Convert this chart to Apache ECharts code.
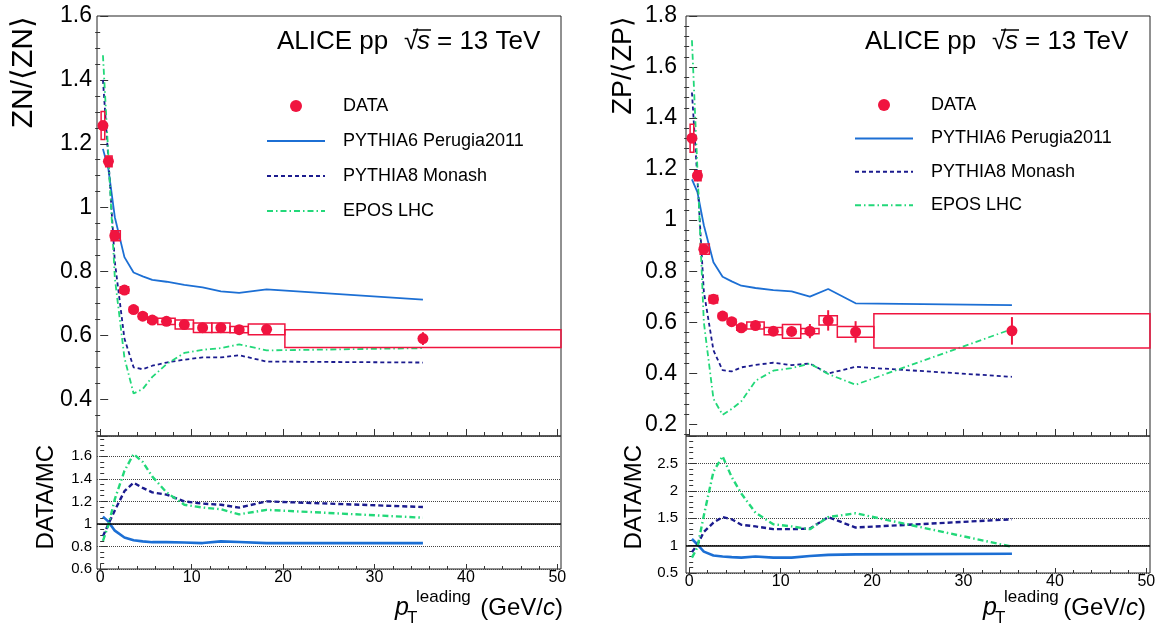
<!DOCTYPE html>
<html><head><meta charset="utf-8">
<script src="https://cdn.jsdelivr.net/npm/echarts@6/dist/echarts.min.js"></script>
<style>html,body{margin:0;padding:0;background:#fff}#c{width:1161px;height:627px}</style>
</head><body><div id="c"></div>
<script>
// ---------- data ----------
const pT    = [0.3, 0.9, 1.6, 2.65, 3.65, 4.65, 5.7, 7.25, 9.2, 11.2, 13.2, 15.2, 18.2, 35.3];
const binLo = [0.1, 0.6, 1.2, 2.2, 3.2, 4.2, 5.2, 6.3, 8.2, 10.2, 12.2, 14.2, 16.2, 20.2];
const binHi = [0.5, 1.3, 2.2, 3.1, 4.1, 5.1, 6.2, 8.2, 10.2, 12.2, 14.2, 16.2, 20.2, 50.4];

const znData = [1.257, 1.145, 0.912, 0.742, 0.681, 0.660, 0.648, 0.644, 0.634, 0.624, 0.624, 0.618, 0.619, 0.590];
const znStat = [0.005, 0.005, 0.005, 0.005, 0.005, 0.005, 0.005, 0.005, 0.006, 0.007, 0.008, 0.009, 0.012, 0.020];
const znSys  = [0.044, 0.017, 0.016, 0.010, 0.008, 0.008, 0.008, 0.010, 0.014, 0.015, 0.015, 0.010, 0.017, 0.028];
const znPythia6 = [1.184, 1.12, 0.97, 0.845, 0.797, 0.785, 0.774, 0.768, 0.758, 0.750, 0.738, 0.733, 0.744, 0.712];
const znPythia8 = [1.40, 1.15, 0.83, 0.59, 0.50, 0.494, 0.505, 0.515, 0.524, 0.531, 0.531, 0.538, 0.518, 0.515];
const znEpos    = [1.477, 1.16, 0.78, 0.53, 0.418, 0.432, 0.47, 0.51, 0.545, 0.555, 0.56, 0.572, 0.553, 0.56];
const znRatioPythia6 = [1.065, 1.02, 0.94, 0.88, 0.855, 0.845, 0.838, 0.838, 0.835, 0.83, 0.845, 0.84, 0.83, 0.83];
const znRatioPythia8 = [0.89, 1.0, 1.12, 1.29, 1.365, 1.32, 1.28, 1.26, 1.2, 1.18, 1.17, 1.145, 1.2, 1.15];
const znRatioEpos    = [0.85, 0.99, 1.22, 1.47, 1.62, 1.55, 1.42, 1.28, 1.17, 1.145, 1.13, 1.085, 1.125, 1.055];

const zpData = [1.321, 1.174, 0.886, 0.690, 0.624, 0.602, 0.578, 0.587, 0.565, 0.564, 0.565, 0.607, 0.562, 0.566];
const zpStat = [0.005, 0.005, 0.005, 0.006, 0.007, 0.008, 0.010, 0.012, 0.015, 0.018, 0.028, 0.040, 0.042, 0.054];
const zpSys  = [0.055, 0.020, 0.020, 0.015, 0.010, 0.010, 0.010, 0.014, 0.014, 0.027, 0.010, 0.018, 0.021, 0.067];
const zpPythia6 = [1.16, 1.11, 0.98, 0.835, 0.778, 0.76, 0.743, 0.734, 0.726, 0.721, 0.70, 0.73, 0.674, 0.667];
const zpPythia8 = [1.50, 1.16, 0.72, 0.49, 0.412, 0.407, 0.423, 0.433, 0.441, 0.432, 0.438, 0.399, 0.425, 0.386];
const zpEpos    = [1.705, 1.2, 0.6, 0.30, 0.237, 0.26, 0.29, 0.37, 0.41, 0.42, 0.438, 0.397, 0.355, 0.573];
const zpRatioPythia6 = [1.12, 1.02, 0.89, 0.82, 0.80, 0.79, 0.78, 0.80, 0.78, 0.78, 0.81, 0.83, 0.84, 0.85];
const zpRatioPythia8 = [0.88, 1.02, 1.25, 1.42, 1.52, 1.48, 1.38, 1.35, 1.30, 1.30, 1.31, 1.52, 1.33, 1.48];
const zpRatioEpos    = [0.78, 0.97, 1.55, 2.35, 2.63, 2.25, 1.95, 1.6, 1.39, 1.35, 1.30, 1.52, 1.59, 0.98];

const xTickLabels = [0, 10, 20, 30, 40, 50];
const xMinorTicks = [2,4,6,8,12,14,16,18,22,24,26,28,32,34,36,38,42,44,46,48];
const znTickLabels = [0.4, 0.6, 0.8, 1, 1.2, 1.4, 1.6];
const znMinorTicks = [0.3,0.35,0.45,0.5,0.55,0.65,0.7,0.75,0.85,0.9,0.95,1.05,1.1,1.15,1.25,1.3,1.35,1.45,1.5,1.55];
const zpTickLabels = [0.2, 0.4, 0.6, 0.8, 1, 1.2, 1.4, 1.6, 1.8];
const zpMinorTicks = [0.16,0.24,0.28,0.32,0.36,0.44,0.48,0.52,0.56,0.64,0.68,0.72,0.76,0.84,0.88,0.92,0.96,1.04,1.08,1.12,1.16,1.24,1.28,1.32,1.36,1.44,1.48,1.52,1.56,1.64,1.68,1.72,1.76];

const names = ['DATA', 'PYTHIA6 Perugia2011', 'PYTHIA8 Monash', 'EPOS LHC'];

// ---------- style ----------
const FONT = 'Liberation Sans, Arial, Helvetica, sans-serif';
const RED = '#f0143f', C6 = '#1c6fd4', C8 = '#1b1b8e', CE = '#22d879';
const AX = '#333';

const XMIN = -0.35, XMAX = 50.4;
const G = [
  {left: 97,  top: 16,  width: 464, height: 420},
  {left: 97,  top: 436, width: 464, height: 133},
  {left: 686, top: 16,  width: 464, height: 420},
  {left: 686, top: 436, width: 464, height: 137}
];
const grids = G.map(g => Object.assign({show: true, borderColor: '#222', borderWidth: 1, backgroundColor: 'transparent'}, g));

function xMain(gi, withLabels, tickLen) {
  return {type: 'value', gridIndex: gi, min: XMIN, max: XMAX, position: 'bottom',
    axisLine: {show: false}, splitLine: {show: false},
    axisTick: {show: true, inside: true, length: tickLen, customValues: xTickLabels, lineStyle: {color: AX}},
    axisLabel: {show: withLabels, customValues: xTickLabels, margin: 1, fontFamily: FONT, fontSize: 16, color: '#000'}};
}
function xMinor(gi, tickLen) {
  return {type: 'value', gridIndex: gi, min: XMIN, max: XMAX, position: 'bottom',
    axisLine: {show: false}, splitLine: {show: false}, axisLabel: {show: false},
    axisTick: {show: true, inside: true, length: tickLen, customValues: xMinorTicks, lineStyle: {color: AX}}};
}
const xAxes = [xMain(0, false, 7), xMain(1, true, 5), xMain(2, false, 7), xMain(3, true, 5),
               xMinor(0, 4), xMinor(1, 3), xMinor(2, 4), xMinor(3, 3)];

const yAxes = [
  {type: 'value', gridIndex: 0, min: 0.285, max: 1.6,
   axisLine: {show: false}, splitLine: {show: false},
   axisTick: {inside: true, length: 8, customValues: znTickLabels, lineStyle: {color: AX}},
   axisLabel: {customValues: znTickLabels, margin: 5, fontFamily: FONT, fontSize: 23, color: '#000'}},
  {type: 'value', gridIndex: 1, min: 0.6, max: 1.78, interval: 0.2,
   axisLine: {show: false},
   splitLine: {show: true, lineStyle: {type: 'dotted', color: '#444', width: 1}},
   axisTick: {inside: true, length: 7, lineStyle: {color: AX}},
   minorTick: {show: true, splitNumber: 4, length: 4, lineStyle: {color: AX}},
   axisLabel: {showMaxLabel: false, margin: 5, fontFamily: FONT, fontSize: 15, color: '#000'}},
  {type: 'value', gridIndex: 2, min: 0.154, max: 1.8,
   axisLine: {show: false}, splitLine: {show: false},
   axisTick: {inside: true, length: 8, customValues: zpTickLabels, lineStyle: {color: AX}},
   axisLabel: {customValues: zpTickLabels, margin: 9, fontFamily: FONT, fontSize: 23, color: '#000'}},
  {type: 'value', gridIndex: 3, min: 0.5, max: 3, interval: 0.5,
   axisLine: {show: false},
   splitLine: {show: true, lineStyle: {type: 'dotted', color: '#444', width: 1}},
   axisTick: {inside: true, length: 7, lineStyle: {color: AX}},
   minorTick: {show: true, splitNumber: 5, length: 4, lineStyle: {color: AX}},
   axisLabel: {showMaxLabel: false, margin: 8, fontFamily: FONT, fontSize: 15, color: '#000'}},
  {type: 'value', gridIndex: 0, min: 0.285, max: 1.6,
   axisLine: {show: false}, splitLine: {show: false}, axisLabel: {show: false},
   axisTick: {inside: true, length: 5, customValues: znMinorTicks, lineStyle: {color: AX}}},
  {type: 'value', gridIndex: 2, min: 0.154, max: 1.8,
   axisLine: {show: false}, splitLine: {show: false}, axisLabel: {show: false},
   axisTick: {inside: true, length: 5, customValues: zpMinorTicks, lineStyle: {color: AX}}}
];

function lineSeries(name, vals, axi, color, type, width) {
  return {type: 'line', name: name, xAxisIndex: axi, yAxisIndex: axi,
    data: pT.map((x, i) => [x, vals[i]]), symbol: 'none', showSymbol: false,
    lineStyle: {color: color, type: type, width: width}, itemStyle: {color: color}, z: 3, silent: true};
}
function boxSeries(vals, sys, axi) {
  return {type: 'custom', name: 'sys', xAxisIndex: axi, yAxisIndex: axi, z: 4, silent: true,
    data: pT.map((x, i) => [binLo[i], binHi[i], vals[i] - sys[i], vals[i] + sys[i]]),
    encode: {x: [0, 1], y: [2, 3]},
    renderItem: function (params, api) {
      const a = api.coord([api.value(0), api.value(3)]);
      const b = api.coord([api.value(1), api.value(2)]);
      return {type: 'rect', shape: {x: a[0], y: a[1], width: b[0] - a[0], height: b[1] - a[1]},
        style: {fill: 'none', stroke: RED, lineWidth: 1.5}};
    }};
}
function errSeries(vals, stat, axi) {
  return {type: 'custom', name: 'stat', xAxisIndex: axi, yAxisIndex: axi, z: 5, silent: true,
    data: pT.map((x, i) => [x, vals[i] - stat[i], vals[i] + stat[i]]),
    encode: {x: 0, y: [1, 2]},
    renderItem: function (params, api) {
      const a = api.coord([api.value(0), api.value(1)]);
      const b = api.coord([api.value(0), api.value(2)]);
      return {type: 'line', shape: {x1: a[0], y1: a[1], x2: b[0], y2: b[1]},
        style: {stroke: RED, lineWidth: 2}};
    }};
}
function dataSeries(vals, axi) {
  return {type: 'scatter', name: 'DATA', xAxisIndex: axi, yAxisIndex: axi, z: 6, silent: true,
    data: pT.map((x, i) => [x, vals[i]]), symbol: 'circle', symbolSize: 11, itemStyle: {color: RED, opacity: 1}};
}
function unity(axi) {
  return {type: 'line', name: 'unity', xAxisIndex: axi, yAxisIndex: axi, data: [], silent: true,
    markLine: {silent: true, symbol: 'none', label: {show: false}, animation: false,
      lineStyle: {color: '#000', type: 'solid', width: 1.5}, data: [{yAxis: 1}]}};
}

const series = [
  lineSeries(names[1], znPythia6, 0, C6, 'solid', 1.8),
  lineSeries(names[2], znPythia8, 0, C8, [4, 3], 1.8),
  lineSeries(names[3], znEpos, 0, CE, [6, 3, 1.5, 3], 1.8),
  boxSeries(znData, znSys, 0), errSeries(znData, znStat, 0), dataSeries(znData, 0),
  unity(1),
  lineSeries('r6', znRatioPythia6, 1, C6, 'solid', 2.6),
  lineSeries('r8', znRatioPythia8, 1, C8, [5, 3], 2.4),
  lineSeries('rE', znRatioEpos, 1, CE, [6, 3, 1.5, 3], 2.4),
  lineSeries(names[1], zpPythia6, 2, C6, 'solid', 1.8),
  lineSeries(names[2], zpPythia8, 2, C8, [4, 3], 1.8),
  lineSeries(names[3], zpEpos, 2, CE, [6, 3, 1.5, 3], 1.8),
  boxSeries(zpData, zpSys, 2), errSeries(zpData, zpStat, 2), dataSeries(zpData, 2),
  unity(3),
  lineSeries('r6', zpRatioPythia6, 3, C6, 'solid', 2.6),
  lineSeries('r8', zpRatioPythia8, 3, C8, [5, 3], 2.4),
  lineSeries('rE', zpRatioEpos, 3, CE, [6, 3, 1.5, 3], 2.4)
];

function legend(left, top, gap) {
  return {orient: 'vertical', left: left, top: top, itemWidth: 58, itemHeight: 12, itemGap: gap,
    selectedMode: false,
    data: [
      {name: names[0]},
      {name: names[1], itemStyle: {opacity: 0}},
      {name: names[2], itemStyle: {opacity: 0}},
      {name: names[3], itemStyle: {opacity: 0}}
    ],
    textStyle: {fontFamily: FONT, fontSize: 18, color: '#000', lineHeight: 20, padding: [0, 0, 0, 13]}};
}

function txt(x, y, text, size, opts) {
  return Object.assign({type: 'text', x: x, y: y, silent: true,
    style: Object.assign({text: text, fontFamily: FONT, fontSize: size, fill: '#000', align: 'left', verticalAlign: 'middle'}, (opts && opts.style) || {})},
    opts && opts.rotation !== undefined ? {rotation: opts.rotation} : {});
}
function alice(x0) {
  return [
    txt(x0, 42, 'ALICE pp', 26),
    txt(x0 + 127, 42, '\u221A', 26),
    txt(x0 + 140, 42, 's', 26, {style: {fontStyle: 'italic'}}),
    {type: 'line', silent: true, shape: {x1: x0 + 136, y1: 30, x2: x0 + 154, y2: 30}, style: {stroke: '#000', lineWidth: 1.5}},
    txt(x0 + 160, 42, '= 13 TeV', 26)
  ];
}
function xTitle(px, rightEdge) {
  return [
    txt(px, 608, 'p', 25, {style: {fontStyle: 'italic'}}),
    txt(px + 12, 618, 'T', 17),
    txt(px + 21, 597, 'leading', 17),
    {type: 'text', x: rightEdge, y: 608, silent: true,
     style: {text: '{a|(GeV/}{b|c}{a|)}', align: 'right', verticalAlign: 'middle',
       rich: {a: {fontFamily: FONT, fontSize: 24, fill: '#000'}, b: {fontFamily: FONT, fontSize: 24, fontStyle: 'italic', fill: '#000'}}}}
  ];
}
const vert = Math.PI / 2;
const graphics = [].concat(
  alice(277), alice(865),
  xTitle(395, 563), xTitle(983, 1146),
  [
    txt(24, 16, 'ZN/\u27E8ZN\u27E9', 30, {rotation: vert, style: {align: 'right'}}),
    txt(624, 16, 'ZP/\u27E8ZP\u27E9', 27, {rotation: vert, style: {align: 'right'}}),
    txt(46, 445, 'DATA/MC', 24, {rotation: vert, style: {align: 'right'}}),
    txt(634, 445, 'DATA/MC', 24, {rotation: vert, style: {align: 'right'}})
  ]
);

const chart = echarts.init(document.getElementById('c'), null, {renderer: 'canvas'});
chart.setOption({
  animation: false,
  backgroundColor: '#fff',
  textStyle: {fontFamily: FONT},
  grid: grids,
  xAxis: xAxes,
  yAxis: yAxes,
  legend: [legend(261, 91, 15), legend(849, 90, 13.4)],
  series: series,
  graphic: graphics
});
</script></body></html>
